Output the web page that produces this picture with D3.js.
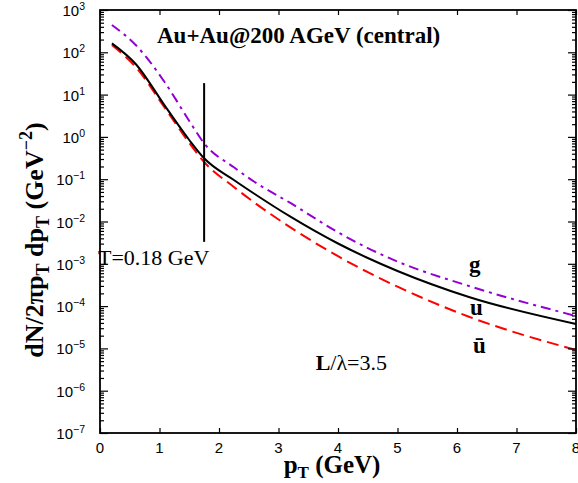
<!DOCTYPE html>
<html>
<head>
<meta charset="utf-8">
<script src="https://cdn.jsdelivr.net/npm/d3@7"></script>
<style>
  body { margin: 0; background: #fff; }
  text { font-family: "Liberation Serif", "Times New Roman", serif; }
  .tick-label { font-family: "Liberation Sans", Arial, sans-serif; font-size: 15px; }
</style>
</head>
<body>
<div id="chart"></div>
<script>
// data
var pt = [0.2, 0.6, 1.1, 1.5, 1.75, 2.25, 2.6, 3.2, 4.0, 4.5, 5.0, 6.2, 8.0];
var gluon = [442, 149, 18.5, 2.38, 0.706, 0.191, 0.0859, 0.0274, 5.56e-3, 2.36e-3, 1.13e-3, 2.99e-4, 5.83e-5];
var uQuark = [163, 53, 5.18, 0.845, 0.312, 0.0958, 0.0447, 0.013, 3.02e-3, 1.37e-3, 6.76e-4, 1.64e-4, 3.78e-5];
var uBar = [149, 44.9, 4.64, 0.718, 0.255, 0.0655, 0.0277, 7.26e-3, 1.51e-3, 6.32e-4, 2.88e-4, 5.61e-5, 9.17e-6];
var xTicks = [0, 1, 2, 3, 4, 5, 6, 7, 8];
var yExps = [3, 2, 1, 0, -1, -2, -3, -4, -5, -6, -7];
var tLine = {pt: 1.75, lo: 0.0033, hi: 18.7};

var margin = {top: 10, right: 2, bottom: 50, left: 100},
    width = 578 - margin.left - margin.right,
    height = 483 - margin.top - margin.bottom;

var svg = d3.select("#chart")
  .append("svg")
    .attr("width", 578)
    .attr("height", 483);

var g = svg.append("g")
    .attr("transform", "translate(" + margin.left + "," + margin.top + ")");

var x = d3.scaleLinear().domain([0, 8]).range([0, width]);
var y = d3.scaleLog().domain([1e-7, 1e3]).range([height, 0]);

// clip for the curves
g.append("clipPath").attr("id", "clip")
  .append("rect").attr("width", width).attr("height", height);

var line = d3.line()
    .x(function(d) { return x(d[0]); })
    .y(function(d) { return y(d[1]); })
    .curve(d3.curveMonotoneX);

function pts(vals) { return pt.map(function(p, i) { return [p, vals[i]]; }); }

var curves = g.append("g").attr("clip-path", "url(#clip)");

curves.append("path")
    .attr("d", line(pts(gluon)))
    .attr("fill", "none")
    .attr("stroke", "#9400d3")
    .attr("stroke-width", 2)
    .attr("stroke-dasharray", "10,5,3,5");

curves.append("path")
    .attr("d", line(pts(uBar)))
    .attr("fill", "none")
    .attr("stroke", "#ff0000")
    .attr("stroke-width", 2)
    .attr("stroke-dasharray", "12,6");

curves.append("path")
    .attr("d", line(pts(uQuark)))
    .attr("fill", "none")
    .attr("stroke", "#000")
    .attr("stroke-width", 2);

// vertical T marker
g.append("line")
    .attr("x1", x(tLine.pt)).attr("x2", x(tLine.pt))
    .attr("y1", y(tLine.hi)).attr("y2", y(tLine.lo))
    .attr("stroke", "#000")
    .attr("stroke-width", 2);

// minor log ticks
var minor = [];
yExps.forEach(function(e) {
  if (e === 3) return;
  for (var k = 2; k <= 9; k++) minor.push(k * Math.pow(10, e));
});

// axes: ticks drawn inward on all four sides
var xb = g.append("g").attr("transform", "translate(0," + height + ")")
  .call(d3.axisBottom(x).tickValues(xTicks).tickSize(-5).tickFormat(""));
var xt = g.append("g")
  .call(d3.axisTop(x).tickValues(xTicks).tickSize(-5).tickFormat(""));
var yl = g.append("g")
  .call(d3.axisLeft(y).tickValues(yExps.map(function(e) { return Math.pow(10, e); })).tickSize(-8).tickFormat(""));
var yr = g.append("g").attr("transform", "translate(" + width + ",0)")
  .call(d3.axisRight(y).tickValues(yExps.map(function(e) { return Math.pow(10, e); })).tickSize(-8).tickFormat(""));
var ylm = g.append("g")
  .call(d3.axisLeft(y).tickValues(minor).tickSize(-4).tickFormat(""));
var yrm = g.append("g").attr("transform", "translate(" + width + ",0)")
  .call(d3.axisRight(y).tickValues(minor).tickSize(-4).tickFormat(""));

[xb, xt, yl, yr, ylm, yrm].forEach(function(a) {
  a.select(".domain").remove();
  a.selectAll("line").attr("stroke", "#000").attr("stroke-width", 1.2);
});

g.append("rect")
    .attr("width", width).attr("height", height)
    .attr("fill", "none")
    .attr("stroke", "#000")
    .attr("stroke-width", 1.8);

// tick labels
g.selectAll(".xlab")
  .data(xTicks)
  .enter().append("text")
    .attr("class", "tick-label")
    .attr("x", function(d) { return x(d); })
    .attr("y", height + 20)
    .attr("text-anchor", "middle")
    .text(function(d) { return d; });

var ylab = g.selectAll(".ylab")
  .data(yExps)
  .enter().append("text")
    .attr("class", "tick-label")
    .attr("x", -15)
    .attr("y", function(d) { return y(Math.pow(10, d)) + 6; })
    .attr("text-anchor", "end");
ylab.append("tspan").text("10");
ylab.append("tspan")
    .attr("dy", -6)
    .style("font-size", "10.5px")
    .text(function(d) { return d < 0 ? "\u2212" + (-d) : d; });

// annotations
g.append("text")
    .attr("x", 57).attr("y", 33)
    .style("font-size", "23px").style("font-weight", "bold")
    .text("Au+Au@200 AGeV (central)");

g.append("text")
    .attr("x", -2).attr("y", 255)
    .style("font-size", "22px")
    .text("T=0.18 GeV");

g.append("text")
    .attr("x", 369).attr("y", 262)
    .style("font-size", "23px").style("font-weight", "bold")
    .text("g");
g.append("text")
    .attr("x", 370).attr("y", 305)
    .style("font-size", "23px").style("font-weight", "bold")
    .text("u");
g.append("text")
    .attr("x", 373).attr("y", 343)
    .style("font-size", "23px").style("font-weight", "bold")
    .text("\u016B");

var lt = g.append("text")
    .attr("x", 287).attr("y", 360)
    .attr("text-anchor", "end")
    .style("font-size", "22px");
lt.append("tspan").style("font-weight", "bold").text("L");
lt.append("tspan").text("/\u03BB=3.5");

// axis titles
var xt2 = svg.append("text")
    .attr("x", 332).attr("y", 473)
    .attr("text-anchor", "middle")
    .style("font-size", "25px").style("font-weight", "bold");
xt2.append("tspan").text("p");
xt2.append("tspan").attr("dy", 5).style("font-size", "17px").text("T");
xt2.append("tspan").attr("dy", -5).text(" (GeV)");

var yt = svg.append("text")
    .attr("transform", "translate(43,240) rotate(-90)")
    .attr("text-anchor", "middle")
    .style("font-size", "26px").style("font-weight", "bold");
yt.append("tspan").text("dN/2\u03C0p");
yt.append("tspan").attr("dy", 6).style("font-size", "18px").text("T");
yt.append("tspan").attr("dy", -6).text(" dp");
yt.append("tspan").attr("dy", 6).style("font-size", "18px").text("T");
yt.append("tspan").attr("dy", -6).text(" (GeV");
yt.append("tspan").attr("dy", -11).style("font-size", "18px").text("\u22122");
yt.append("tspan").attr("dy", 11).text(")");
</script>
</body>
</html>
